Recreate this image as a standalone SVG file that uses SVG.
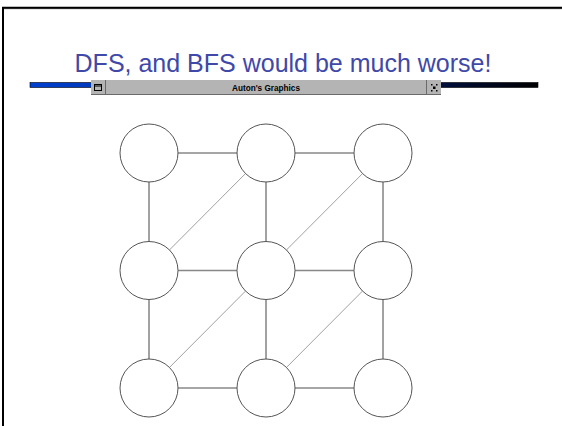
<svg xmlns="http://www.w3.org/2000/svg" width="562" height="426" viewBox="0 0 562 426">
<defs>
<linearGradient id="bar" x1="0" y1="0" x2="1" y2="0">
<stop offset="0" stop-color="#0040d0"/>
<stop offset="0.3" stop-color="#0030a0"/>
<stop offset="0.8" stop-color="#001040"/>
<stop offset="1" stop-color="#000000"/>
</linearGradient>
<style>
.node{fill:#ffffff;stroke:#555555;stroke-width:1}
.h{stroke:#888888;stroke-width:1.4}
.v{stroke:#444444;stroke-width:1}
.d{stroke:#888888;stroke-width:0.8}
</style>
</defs>
<rect width="562" height="426" fill="#ffffff"/>
<g id="frame">
<line x1="3" y1="8.7" x2="562" y2="8.7" stroke="#808080" stroke-width="1"/>
<line x1="2" y1="7.7" x2="562" y2="7.7" stroke="#000000" stroke-width="2"/>
<line x1="3" y1="7" x2="3" y2="426" stroke="#000000" stroke-width="2"/>
</g>
<text x="283" y="72" font-family="Liberation Sans, Arial, sans-serif" font-size="25" fill="#4048a8" text-anchor="middle">DFS, and BFS would be much worse!</text>
<g id="titlebar">
<rect x="30" y="82.5" width="508" height="5" fill="url(#bar)" stroke="#000000" stroke-width="0.6"/>
<rect x="91" y="80" width="350" height="15" fill="#b4b4b4"/>
<line x1="91" y1="94.5" x2="441" y2="94.5" stroke="#6a6a6a" stroke-width="1"/>
<line x1="105.5" y1="80" x2="105.5" y2="95" stroke="#6a6a6a" stroke-width="1"/>
<line x1="426.5" y1="80" x2="426.5" y2="95" stroke="#6a6a6a" stroke-width="1"/>
<rect x="94.5" y="84.5" width="7" height="6" fill="none" stroke="#000000" stroke-width="1"/>
<line x1="94.5" y1="86" x2="101.5" y2="86" stroke="#000000" stroke-width="1"/>
<g fill="#000000">
<rect x="431" y="84" width="1.5" height="1.5"/>
<rect x="436" y="84" width="1.5" height="1.5"/>
<rect x="433" y="86.5" width="2.5" height="2.5"/>
<rect x="431" y="90" width="1.5" height="1.5"/>
<rect x="436" y="90" width="1.5" height="1.5"/>
</g>
<text x="266" y="90.7" font-family="Liberation Sans, Arial, sans-serif" font-size="8.2" font-weight="bold" fill="#000000" text-anchor="middle">Auton's Graphics</text>
</g>
<g id="connectors">
<line class="h" x1="149" y1="153" x2="266" y2="153"/>
<line class="h" x1="266" y1="153" x2="383" y2="153"/>
<line class="h" x1="149" y1="270.5" x2="266" y2="270.5"/>
<line class="h" x1="266" y1="270.5" x2="383" y2="270.5"/>
<line class="h" x1="149" y1="388" x2="266" y2="388"/>
<line class="h" x1="266" y1="388" x2="383" y2="388"/>
<line class="v" x1="149" y1="153" x2="149" y2="270.5"/>
<line class="v" x1="149" y1="270.5" x2="149" y2="388"/>
<line class="v" x1="266" y1="153" x2="266" y2="270.5"/>
<line class="v" x1="266" y1="270.5" x2="266" y2="388"/>
<line class="v" x1="383" y1="153" x2="383" y2="270.5"/>
<line class="v" x1="383" y1="270.5" x2="383" y2="388"/>
<line class="d" x1="266" y1="153" x2="149" y2="270.5"/>
<line class="d" x1="383" y1="153" x2="266" y2="270.5"/>
<line class="d" x1="266" y1="270.5" x2="149" y2="388"/>
<line class="d" x1="383" y1="270.5" x2="266" y2="388"/>
</g>
<g id="n11"><circle class="node" cx="149" cy="153" r="29"/></g>
<g id="n12"><circle class="node" cx="266" cy="153" r="29"/></g>
<g id="n13"><circle class="node" cx="383" cy="153" r="29"/></g>
<g id="n21"><circle class="node" cx="149" cy="270.5" r="29"/></g>
<g id="n22"><circle class="node" cx="266" cy="270.5" r="29"/></g>
<g id="n23"><circle class="node" cx="383" cy="270.5" r="29"/></g>
<g id="n31"><circle class="node" cx="149" cy="388" r="29"/></g>
<g id="n32"><circle class="node" cx="266" cy="388" r="29"/></g>
<g id="n33"><circle class="node" cx="383" cy="388" r="29"/></g>
</svg>
